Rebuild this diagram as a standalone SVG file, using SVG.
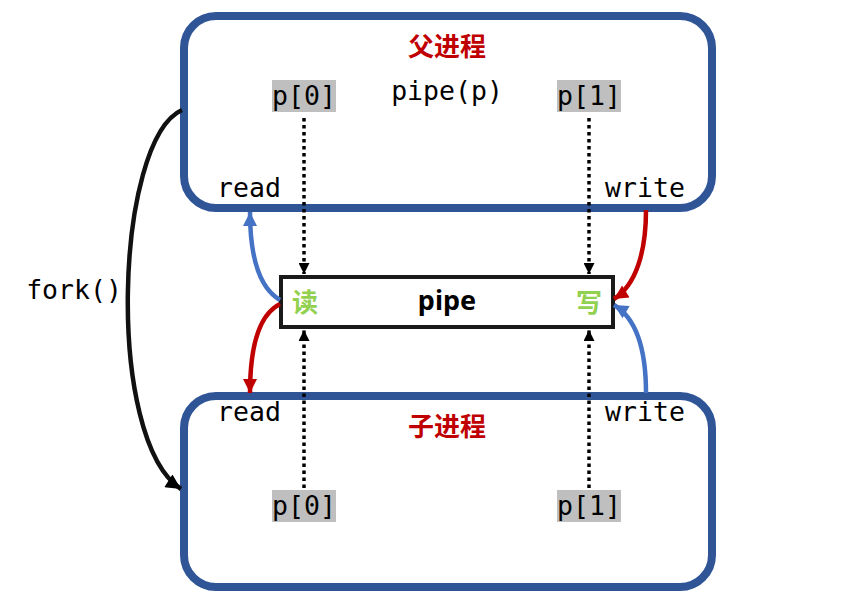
<svg xmlns="http://www.w3.org/2000/svg" width="845" height="602" viewBox="0 0 845 602">
<style>
.proc{fill:#fff;stroke:#2f5597;stroke-width:8}
.mono{font-family:"DejaVu Sans Mono","Liberation Mono",monospace;font-size:26.5px;fill:#000}
.title{font-family:"Noto Sans CJK SC",sans-serif;font-size:26px;font-weight:bold;fill:#c00000}
.lbl{fill:#bfbfbf}
.dot{stroke:#000;stroke-width:3.5;stroke-dasharray:3.5,3.5;fill:none}
.cur{fill:none;stroke-width:4.5}
.g{font-family:"Noto Sans CJK SC",sans-serif;font-size:26px;font-weight:bold;fill:#92d050}
</style>
<defs>
<marker id="ab" viewBox="0 0 10 10" refX="10" refY="5" markerUnits="userSpaceOnUse" markerWidth="11" markerHeight="11" orient="auto"><path d="M0,0 L10,5 L0,10 z" fill="#000"/></marker>
<marker id="af" viewBox="0 0 10 10" refX="10" refY="5" markerUnits="userSpaceOnUse" markerWidth="19" markerHeight="15" orient="auto"><path d="M0,0 L10,5 L0,10 z" fill="#000"/></marker>
<marker id="abl" viewBox="0 0 10 10" refX="10" refY="5" markerUnits="userSpaceOnUse" markerWidth="17" markerHeight="14" orient="auto"><path d="M0,0 L10,5 L0,10 z" fill="#4472c4"/></marker>
<marker id="ar" viewBox="0 0 10 10" refX="10" refY="5" markerUnits="userSpaceOnUse" markerWidth="17" markerHeight="14" orient="auto"><path d="M0,0 L10,5 L0,10 z" fill="#c00000"/></marker>
</defs>
<g id="parent">
<rect class="proc" x="184" y="16" width="528" height="192" rx="32"/>
<text class="title" x="447" y="56" text-anchor="middle">父进程</text>
<text class="mono" x="447" y="100" text-anchor="middle">pipe(p)</text>
<rect class="lbl" x="272" y="80" width="64" height="32"/>
<text class="mono" x="304" y="105" text-anchor="middle">p[0]</text>
<rect class="lbl" x="557" y="80" width="64" height="32"/>
<text class="mono" x="589" y="105" text-anchor="middle">p[1]</text>
<text class="mono" x="249" y="197" text-anchor="middle">read</text>
<text class="mono" x="645" y="197" text-anchor="middle">write</text>
</g>
<g id="child">
<rect class="proc" x="184" y="396" width="528" height="191" rx="32"/>
<text class="title" x="447" y="436" text-anchor="middle">子进程</text>
<text class="mono" x="249" y="421" text-anchor="middle">read</text>
<text class="mono" x="645" y="421" text-anchor="middle">write</text>
<rect class="lbl" x="272" y="490" width="64" height="32"/>
<text class="mono" x="304" y="515" text-anchor="middle">p[0]</text>
<rect class="lbl" x="557" y="490" width="64" height="32"/>
<text class="mono" x="589" y="515" text-anchor="middle">p[1]</text>
</g>
<g id="pipe">
<rect x="281" y="277" width="332" height="50" fill="#fff" stroke="#1a1a1a" stroke-width="4"/>
<text class="g" x="305" y="312" text-anchor="middle">读</text>
<text class="g" x="589" y="312" text-anchor="middle">写</text>
<text x="447" y="310" text-anchor="middle" font-family="Noto Sans,sans-serif" font-size="27" font-weight="bold" fill="#000">pipe</text>
</g>
<g id="fork-label">
<text class="mono" x="74" y="299" text-anchor="middle">fork()</text>
</g>
<g id="connectors">
<path class="dot" d="M304 118 V274" marker-end="url(#ab)"/>
<path class="dot" d="M589 118 V274" marker-end="url(#ab)"/>
<path class="dot" d="M304 488 V330" marker-end="url(#ab)"/>
<path class="dot" d="M589 488 V330" marker-end="url(#ab)"/>
<path class="cur" stroke="#111" stroke-width="5" d="M182 110 C115 140,105 440,181 489" marker-end="url(#af)"/>
<path class="cur" stroke="#4472c4" d="M280 300 C258 287,250 255,250 212" marker-end="url(#abl)"/>
<path class="cur" stroke="#c00000" d="M646 210 C646 252,636 285,614 299" marker-end="url(#ar)"/>
<path class="cur" stroke="#c00000" d="M280 304 C258 315,250 350,250 393" marker-end="url(#ar)"/>
<path class="cur" stroke="#4472c4" d="M646 393 C646 350,636 318,614 305" marker-end="url(#abl)"/>
</g>
</svg>
